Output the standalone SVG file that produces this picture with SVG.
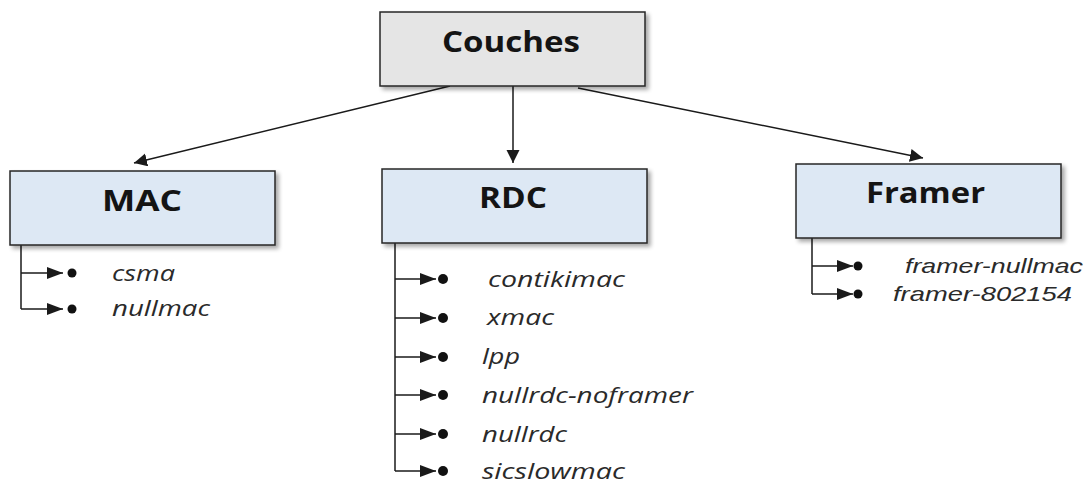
<svg xmlns="http://www.w3.org/2000/svg" width="1090" height="486" viewBox="0 0 1090 486">
  <defs>
    <style>
      .box { stroke: #262626; stroke-width: 1.5; }
      .top { fill: #e5e5e5; }
      .layer { fill: #dde8f4; }
      .title { font-family: "Open Sans", "Liberation Sans", sans-serif; font-weight: 700; font-size: 28px; fill: #141414; }
      .item { font-family: "Open Sans", "Liberation Sans", sans-serif; font-style: italic; font-size: 21.5px; fill: #2a2a2a; }
      .item-arial { font-family: "Liberation Sans", Arial, sans-serif; font-style: italic; font-size: 21px; fill: #2a2a2a; }
      .link { stroke: #1a1a1a; stroke-width: 1.5; fill: none; }
      .dot { fill: #111; }
    </style>
    <filter id="shadow" x="-5%" y="-10%" width="115%" height="130%">
      <feGaussianBlur in="SourceAlpha" stdDeviation="2"/>
      <feOffset dx="3" dy="3" result="off"/>
      <feComponentTransfer><feFuncA type="linear" slope="0.35"/></feComponentTransfer>
      <feMerge><feMergeNode/><feMergeNode in="SourceGraphic"/></feMerge>
    </filter>
    <marker id="head" markerUnits="userSpaceOnUse" markerWidth="14" markerHeight="14" refX="13" refY="6.5" orient="auto">
      <path d="M0,0 L13,6.5 L0,13 Z" fill="#1a1a1a"/>
    </marker>
    <marker id="bullet-head" markerUnits="userSpaceOnUse" markerWidth="17" markerHeight="13" refX="16" refY="6" orient="auto">
      <path d="M0,0 L16,6 L0,12 Z" fill="#1a1a1a"/>
    </marker>
  </defs>

  <!-- connectors: layer links and bullet branches -->
  <g id="connectors">
    <path class="link" d="M450,86 L134,163" marker-end="url(#head)"/>
    <path class="link" d="M513,86 L513,163" marker-end="url(#head)"/>
    <path class="link" d="M578,88 L923,158" marker-end="url(#head)"/>

    <path class="link" d="M21,245 V309"/>
    <path class="link" d="M21,273 H63" marker-end="url(#bullet-head)"/>
    <path class="link" d="M21,309 H63" marker-end="url(#bullet-head)"/>

    <path class="link" d="M395,243 V471"/>
    <path class="link" d="M395,279 H436" marker-end="url(#bullet-head)"/>
    <path class="link" d="M395,318 H436" marker-end="url(#bullet-head)"/>
    <path class="link" d="M395,357 H436" marker-end="url(#bullet-head)"/>
    <path class="link" d="M395,395 H436" marker-end="url(#bullet-head)"/>
    <path class="link" d="M395,434 H436" marker-end="url(#bullet-head)"/>
    <path class="link" d="M395,471 H436" marker-end="url(#bullet-head)"/>

    <path class="link" d="M812,238 V294"/>
    <path class="link" d="M812,266 H853" marker-end="url(#bullet-head)"/>
    <path class="link" d="M812,294 H853" marker-end="url(#bullet-head)"/>
  </g>

  <g id="node-couches">
    <rect class="box top" x="380" y="12" width="265" height="74" filter="url(#shadow)"/>
    <text class="title" x="442" y="52" textLength="138" lengthAdjust="spacingAndGlyphs">Couches</text>
  </g>

  <g id="node-mac">
    <rect class="box layer" x="10" y="171" width="265" height="74" filter="url(#shadow)"/>
    <text class="title" x="102" y="211" textLength="80" lengthAdjust="spacingAndGlyphs">MAC</text>
  </g>

  <g id="node-rdc">
    <rect class="box layer" x="382" y="169" width="265" height="74" filter="url(#shadow)"/>
    <text class="title" x="479" y="208" textLength="68" lengthAdjust="spacingAndGlyphs">RDC</text>
  </g>

  <g id="node-framer">
    <rect class="box layer" x="796" y="164" width="265" height="74" filter="url(#shadow)"/>
    <text class="title" x="866" y="203" textLength="119" lengthAdjust="spacingAndGlyphs">Framer</text>
  </g>

  <!-- MAC implementations -->
  <g id="mac-csma">
    <circle class="dot" cx="72" cy="273" r="4.5"/>
    <text class="item" x="112" y="281" textLength="63" lengthAdjust="spacingAndGlyphs">csma</text>
  </g>
  <g id="mac-nullmac">
    <circle class="dot" cx="72" cy="309" r="4.5"/>
    <text class="item" x="112" y="316" textLength="98" lengthAdjust="spacingAndGlyphs">nullmac</text>
  </g>

  <!-- RDC implementations -->
  <g id="rdc-contikimac">
    <circle class="dot" cx="443" cy="279" r="5"/>
    <text class="item" x="488" y="287" textLength="137" lengthAdjust="spacingAndGlyphs">contikimac</text>
  </g>
  <g id="rdc-xmac">
    <circle class="dot" cx="443" cy="318" r="5"/>
    <text class="item" x="487" y="325" textLength="67" lengthAdjust="spacingAndGlyphs">xmac</text>
  </g>
  <g id="rdc-lpp">
    <circle class="dot" cx="443" cy="357" r="5"/>
    <text class="item" x="482" y="364" textLength="38" lengthAdjust="spacingAndGlyphs">lpp</text>
  </g>
  <g id="rdc-nullrdc-noframer">
    <circle class="dot" cx="443" cy="395" r="5"/>
    <text class="item" x="482" y="403" textLength="211" lengthAdjust="spacingAndGlyphs">nullrdc-noframer</text>
  </g>
  <g id="rdc-nullrdc">
    <circle class="dot" cx="443" cy="434" r="5"/>
    <text class="item" x="482" y="442" textLength="85" lengthAdjust="spacingAndGlyphs">nullrdc</text>
  </g>
  <g id="rdc-sicslowmac">
    <circle class="dot" cx="443" cy="471" r="5"/>
    <text class="item" x="482" y="479" textLength="143" lengthAdjust="spacingAndGlyphs">sicslowmac</text>
  </g>

  <!-- Framer implementations -->
  <g id="framer-nullmac">
    <circle class="dot" cx="858" cy="266" r="4.5"/>
    <text class="item-arial" x="905" y="273" textLength="178" lengthAdjust="spacingAndGlyphs">framer-nullmac</text>
  </g>
  <g id="framer-802154">
    <circle class="dot" cx="858" cy="294" r="4.5"/>
    <text class="item-arial" x="893" y="301" textLength="179" lengthAdjust="spacingAndGlyphs">framer-802154</text>
  </g>
</svg>
